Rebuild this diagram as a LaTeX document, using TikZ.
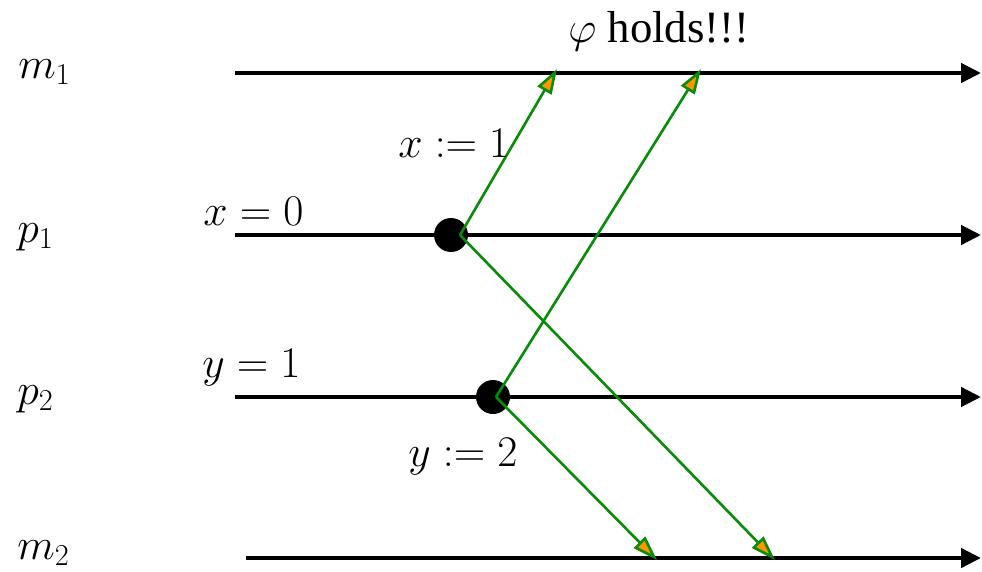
\documentclass[tikz,border=0pt]{standalone}
\usepackage{fontspec}
\setmainfont{Liberation Serif}
\usetikzlibrary{arrows.meta}
\definecolor{msggreen}{RGB}{10,140,10}
\definecolor{tiporange}{RGB}{255,150,0}

\begin{document}
\begin{tikzpicture}[x=0.02cm,y=-0.02cm,font=\fontsize{24}{28}\selectfont,
  proc/.style={line width=2.5pt,-{Triangle[length=0.4cm,width=0.38cm]}},
  msg/.style={draw=msggreen,line width=1.5pt,-{Triangle[fill=tiporange,length=0.5cm,width=0.32cm]}},
  lbl/.style={anchor=base west,inner sep=0pt},
  event/.style={circle,fill=black,minimum size=0.68cm,inner sep=0pt}]
\useasboundingbox (0,0) rectangle (982,571);
% process names
\node[lbl] (m1) at (18,78) {$m_1$};
\node[lbl] (p1) at (17,242) {$p_1$};
\node[lbl] (p2) at (17,404) {$p_2$};
\node[lbl] (m2) at (17,559) {$m_2$};
% time lines
\coordinate (m1s) at (235,73); \coordinate (m1e) at (981,73);
\coordinate (p1s) at (235,235); \coordinate (p1e) at (981,235);
\coordinate (p2s) at (235,397); \coordinate (p2e) at (981,397);
\coordinate (m2s) at (246,558); \coordinate (m2e) at (981,558);
\draw[proc] (m1s)--(m1e);
\draw[proc] (p1s)--(p1e);
\draw[proc] (p2s)--(p2e);
\draw[proc] (m2s)--(m2e);
% initial values
\node[lbl] (x0) at (203,225) {$x = 0$};
\node[lbl] (y1) at (202,377) {$y = 1$};
% events
\node[event] (e1) at (451,235) {};
\node[event] (e2) at (493,397) {};
\coordinate (e1o) at (460,235);
\coordinate (e2o) at (496,397);
% messages
\coordinate (r1) at (557,69);
\coordinate (r2) at (701,69);
\coordinate (r3) at (657,560);
\coordinate (r4) at (775,560);
\draw[msg] (e1o)--(r1);
\draw[msg] (e1o)--(r4);
\draw[msg] (e2o)--(r2);
\draw[msg] (e2o)--(r3);
\node[lbl] (wx) at (398,157) {$x := 1$};
\node[lbl] (wy) at (408,466) {$y := 2$};
\node[lbl] (phi) at (568,43) {\fontsize{25.5}{30}\selectfont$\varphi$ holds!!!};
\end{tikzpicture}
\end{document}
